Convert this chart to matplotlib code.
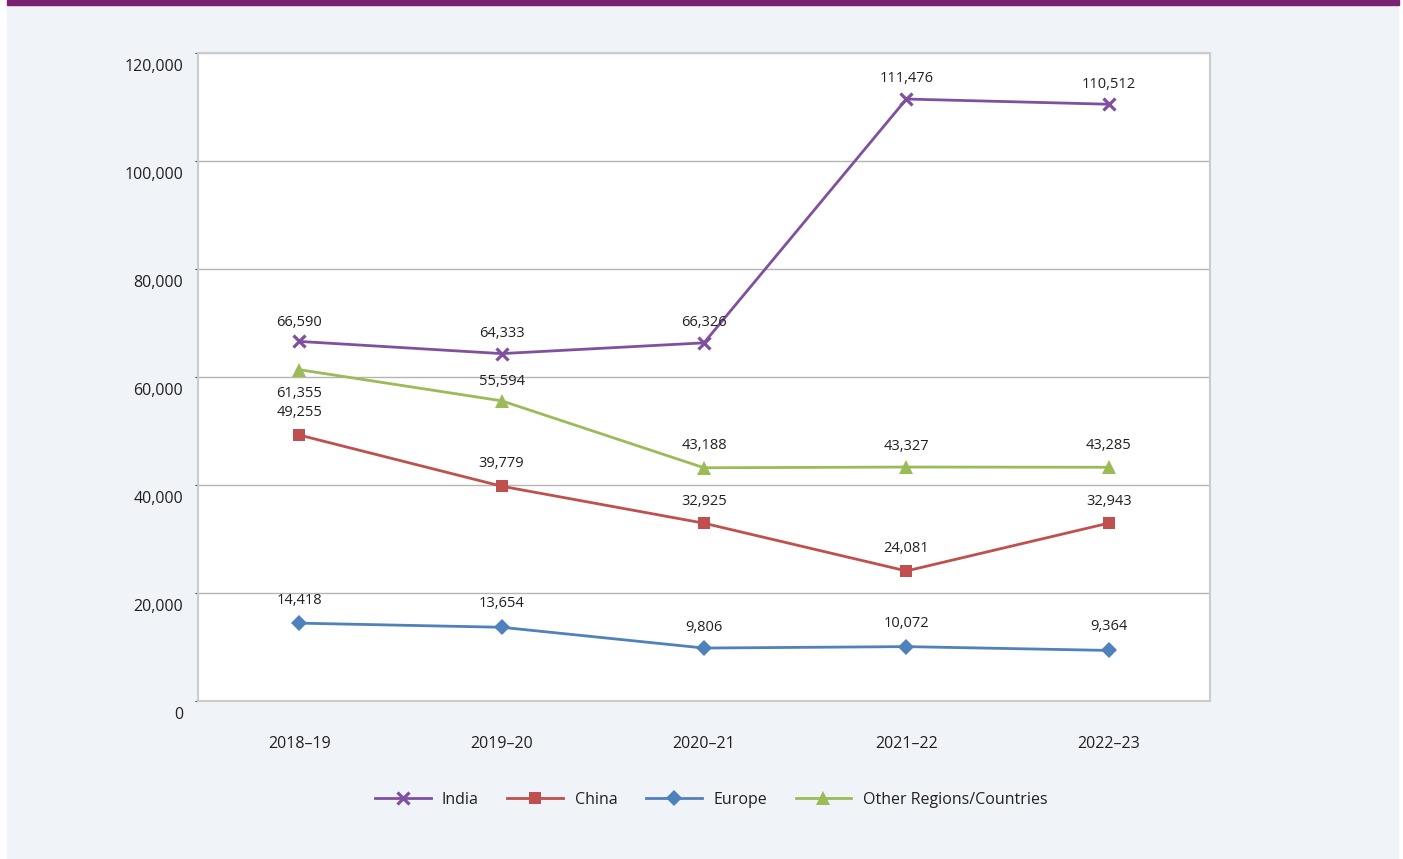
import matplotlib
matplotlib.use("Agg")
import matplotlib.pyplot as plt
from matplotlib.patches import Rectangle
from matplotlib.lines import Line2D
import numpy as np

plt.rcParams["font.family"] = ["Open Sans", "DejaVu Sans"]

years = ["2018–19", "2019–20", "2020–21", "2021–22", "2022–23"]
india = [66590, 64333, 66326, 111476, 110512]
china = [49255, 39779, 32925, 24081, 32943]
europe = [14418, 13654, 9806, 10072, 9364]
other = [61355, 55594, 43188, 43327, 43285]
y_ticks = [0, 20000, 40000, 60000, 80000, 100000, 120000]

text_col = "#231f20"
series = [
    ("India", india, "#8050a0", dict(marker="x", ms=8, mew=2.3)),
    ("China", china, "#c0504d", dict(marker="s", ms=8, mew=0)),
    ("Europe", europe, "#4f81bd", dict(marker="D", ms=8.5, mew=0)),
    ("Other Regions/Countries", other, "#9bbb59", dict(marker="^", ms=9.5, mew=0)),
]

W, H = 1403, 859
fig = plt.figure(figsize=(W / 100, H / 100), dpi=100, facecolor="white")

# panel background and purple top rule
fig.patches.append(Rectangle((7 / W, 0), (1398 - 7) / W, (H - 5) / H,
                             transform=fig.transFigure, color="#f0f4f9", zorder=-2))
fig.patches.append(Rectangle((7 / W, (H - 5) / H), (1399 - 7) / W, 5 / H,
                             transform=fig.transFigure, color="#7a2270", zorder=-2))

ax = fig.add_axes([198 / W, (H - 701) / H, 1012 / W, 648 / H])
ax.set_zorder(1)
ax.set_facecolor("white")
x = np.arange(len(years))

for name, vals, col, mk in series:
    ax.plot(x, vals, color=col, lw=2.0, mec=col, mfc=col, zorder=3, **mk)

ax.set_xlim(-0.5, len(years) - 0.5)
ax.set_ylim(0, 120000)
ax.set_yticks(y_ticks)
ax.set_yticklabels([])
ax.tick_params(axis="y", length=2, width=0.8, color="#444444")
ax.grid(axis="y", color="#b5b5b5", lw=1.0, zorder=1)
ax.set_xticks(x)
ax.set_xticklabels(years, fontsize=11.5, color=text_col)
ax.tick_params(axis="x", length=0, pad=25)
for s in ax.spines.values():
    s.set_color("#cccccc")
    s.set_linewidth(1.5)

# y-axis labels sit a little below their gridlines
for t in y_ticks:
    ax.annotate(f"{t:,}", xy=(0, t), xycoords=("axes fraction", "data"),
                xytext=(-15, -14), textcoords="offset pixels",
                ha="right", va="center", fontsize=11.5, color=text_col)

# value labels: above each point, except the first "Other" value
def label(vals, dy_list):
    for xi, v, dy in zip(x, vals, dy_list):
        ax.annotate(f"{v:,}", xy=(xi, v), xytext=(0, dy), textcoords="offset pixels",
                    ha="center", va="center", fontsize=10.5, color=text_col, zorder=4)

label(india, [19, 20, 20, 21, 20])
label(other, [-24, 19, 22, 21, 22])
label(china, [23, 23, 22, 22, 22])
label(europe, [23, 24, 21, 23, 24])

handles = [Line2D([], [], color=col, lw=2.0, mec=col, mfc=col, **mk)
           for _, _, col, mk in series]
fig.legend(handles, [s[0] for s in series], loc="center", ncol=4,
           bbox_to_anchor=(711 / W, 1 - 800 / H), frameon=False,
           fontsize=11.5, handlelength=3.5, handletextpad=0.7, columnspacing=1.8,
           labelcolor=text_col)

fig.savefig("out.png", dpi=100)
